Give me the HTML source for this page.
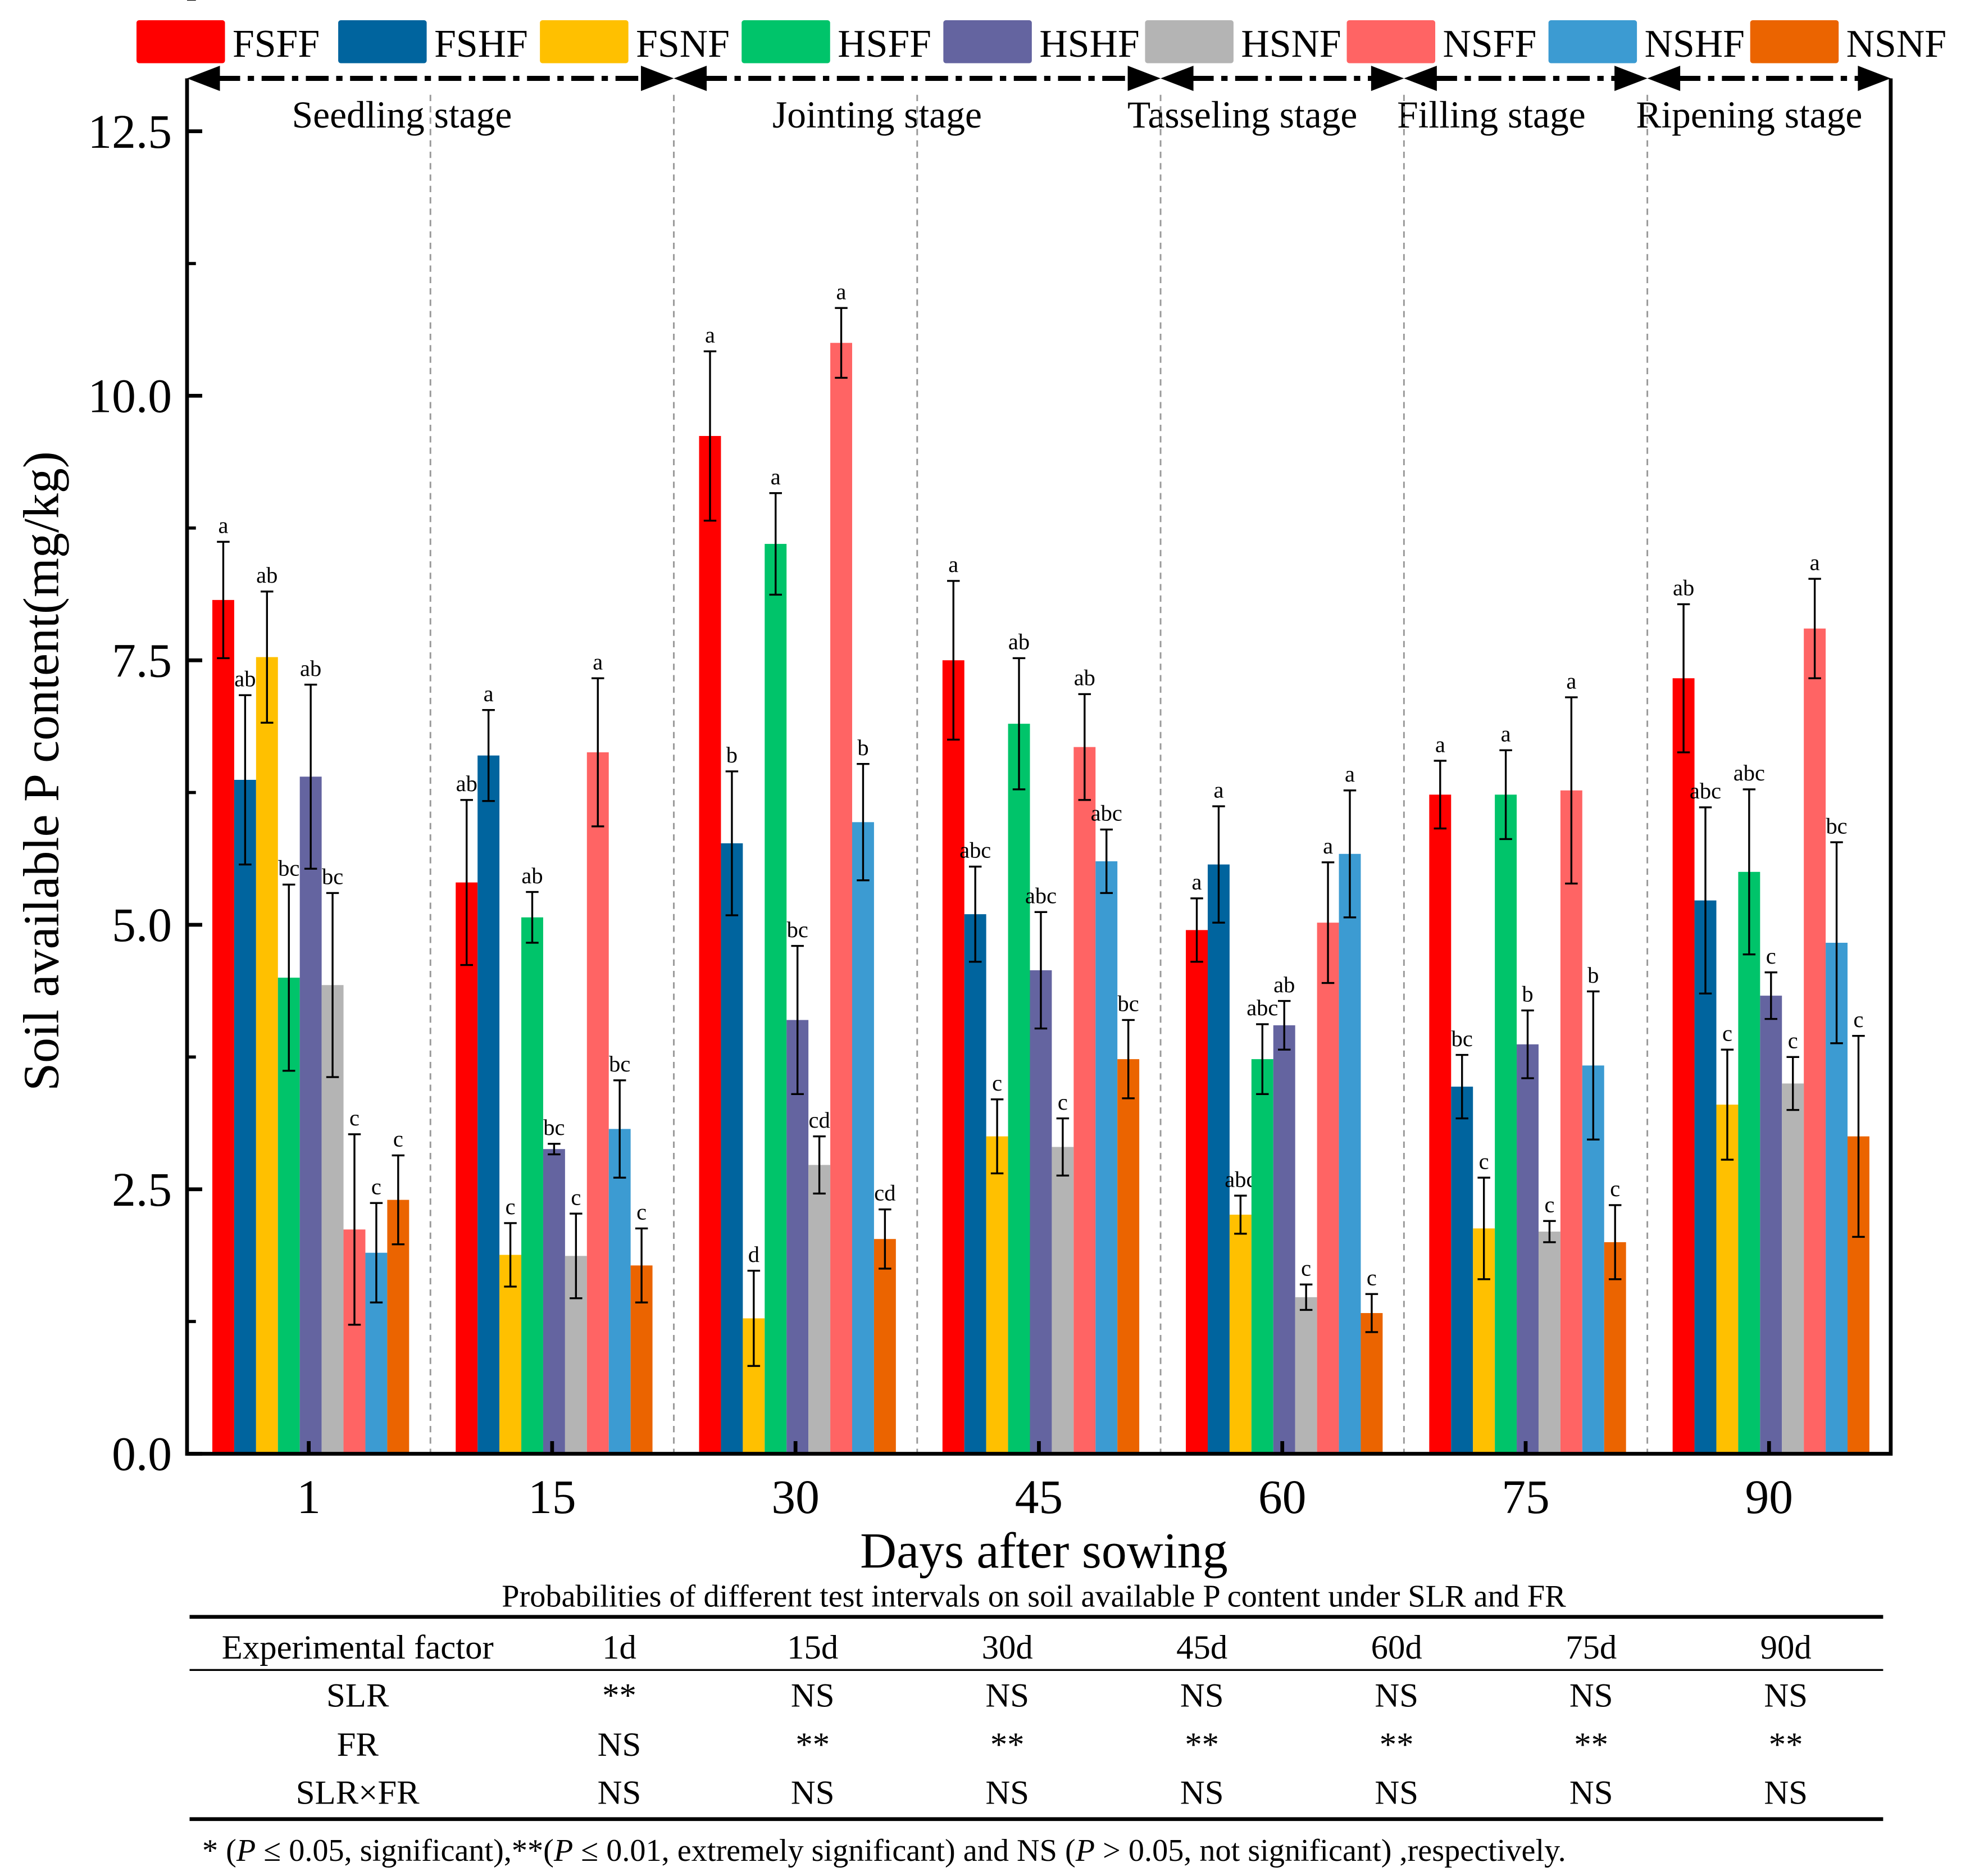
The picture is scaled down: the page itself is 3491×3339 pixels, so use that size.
<!DOCTYPE html>
<html><head><meta charset="utf-8"><style>
html,body{margin:0;padding:0;background:#fff}
svg{display:block}
text{font-family:"Liberation Serif","Times New Roman",serif;fill:#000}
</style></head><body>
<svg id="chart" xmlns="http://www.w3.org/2000/svg" width="3491" height="3339" viewBox="0 0 1551.6 1484" preserveAspectRatio="none">
<g id="legend"></g>
<g id="stages"></g>
<g id="grid"></g>
<g id="bars"></g>
<g id="axes"></g>
<g id="table"></g>
</svg>
<script>
const categories=["1","15","30","45","60","75","90"];
const seriesNames=["FSFF","FSHF","FSNF","HSFF","HSHF","HSNF","NSFF","NSHF","NSNF"];
const seriesColors=["#FF0000","#00649E","#FFC000","#00C46A","#6464A0","#B4B4B4","#FF6464","#3C9BD2","#EB6400"];
const values=[
[8.07,6.37,7.53,4.5,6.4,4.43,2.12,1.9,2.4],
[5.4,6.6,1.88,5.07,2.88,1.87,6.63,3.07,1.78],
[9.62,5.77,1.28,8.6,4.1,2.73,10.5,5.97,2.03],
[7.5,5.1,3.0,6.9,4.57,2.9,6.68,5.6,3.73],
[4.95,5.57,2.26,3.73,4.05,1.48,5.02,5.67,1.33],
[6.23,3.47,2.13,6.23,3.87,2.1,6.27,3.67,2.0],
[7.33,5.23,3.3,5.5,4.33,3.5,7.8,4.83,3.0]];
const errors=[
[0.55,0.8,0.62,0.88,0.87,0.87,0.9,0.47,0.42],
[0.78,0.43,0.3,0.24,0.05,0.4,0.7,0.46,0.35],
[0.8,0.68,0.45,0.48,0.7,0.27,0.33,0.55,0.28],
[0.75,0.45,0.35,0.62,0.55,0.27,0.5,0.3,0.37],
[0.3,0.55,0.18,0.33,0.23,0.12,0.57,0.6,0.18],
[0.32,0.3,0.48,0.42,0.32,0.1,0.88,0.7,0.35],
[0.7,0.88,0.52,0.78,0.22,0.25,0.47,0.95,0.95]];
const letters=[
["a","ab","ab","bc","ab","bc","c","c","c"],
["ab","a","c","ab","bc","c","a","bc","c"],
["a","b","d","a","bc","cd","a","b","cd"],
["a","abc","c","ab","abc","c","ab","abc","bc"],
["a","a","abc","abc","ab","c","a","a","c"],
["a","bc","c","a","b","c","a","b","c"],
["ab","abc","c","abc","c","c","a","bc","c"]];
const yTicks=[0,2.5,5,7.5,10,12.5];
const stages=[["Seedling stage",0,2],["Jointing stage",2,4],["Tasseling stage",4,5],["Filling stage",5,6],["Ripening stage",6,7]];
const stageLabelX=[318,694,983,1180,1384];
const tableCols=["1d","15d","30d","45d","60d","75d","90d"];
const tableRows=[["SLR",["**","NS","NS","NS","NS","NS","NS"]],["FR",["NS","**","**","**","**","**","**"]],["SLR×FR",["NS","NS","NS","NS","NS","NS","NS"]]];

const NS="http://www.w3.org/2000/svg";
const L=148,R=1496,T=62,B=1150,YMAX=13;
const band=(R-L)/categories.length, bw=17.3, off=20;
const y=v=>B-v/YMAX*(B-T);
const bx=(i,j)=>L+i*band+off+j*bw;
function mk(tag,attrs,parent,txt){const e=document.createElementNS(NS,tag);for(const k in attrs)e.setAttribute(k,attrs[k]);if(txt!==undefined)e.textContent=txt;parent.appendChild(e);return e;}
const gL=document.getElementById('legend'),gS=document.getElementById('stages'),gG=document.getElementById('grid'),gB=document.getElementById('bars'),gA=document.getElementById('axes'),gT=document.getElementById('table');

seriesNames.forEach((n,j)=>{
 const x=108+j*159.6;
 const r=mk('rect',{x:x,y:16,width:70,height:34,rx:2,fill:seriesColors[j]},gL);
 
 
 const t=mk('text',{x:x+76,y:45,'font-size':31},gL,n);
 
 
});

for(let i=1;i<categories.length;i++){
 const x=L+i*band;
 const l=mk('line',{x1:x,y1:75,x2:x,y2:B,stroke:'#999','stroke-width':1.3,'stroke-dasharray':'5,4'},gG);
 
 
}
stages.forEach((s,k)=>{
 const x1=L+s[1]*band,x2=L+s[2]*band;
 const ln=mk('line',{x1:x1+24,y1:T,x2:x2-24,y2:T,stroke:'#000','stroke-width':4,'stroke-dasharray':'18,6,5,6'},gS);
 
 
 const a1=mk('polygon',{points:`${x1},${T} ${x1+26},${T-10} ${x1+26},${T+10}`,fill:'#000'},gS);
 
 
 const a2=mk('polygon',{points:`${x2},${T} ${x2-26},${T-10} ${x2-26},${T+10}`,fill:'#000'},gS);
 
 
 const t=mk('text',{x:stageLabelX[k],y:101,'font-size':30,'text-anchor':'middle'},gS,s[0]);
 
 
});

categories.forEach((c,i)=>{
 seriesNames.forEach((n,j)=>{
  const v=values[i][j],e=errors[i][j],x=bx(i,j);
  const r=mk('rect',{x:x,y:y(v),width:bw,height:B-y(v),fill:seriesColors[j]},gB);
  
  
  const cx=x+bw/2,yt=y(v+e),yb=y(v-e);
  const p=mk('path',{d:`M${cx},${yt}V${yb}M${cx-5},${yt}H${cx+5}M${cx-5},${yb}H${cx+5}`,stroke:'#000','stroke-width':1.5,fill:'none'},gB);
  
  
  const t=mk('text',{x:cx,y:yt-7,'font-size':18,'text-anchor':'middle'},gB,letters[i][j]);
  
  
 });
 const xl=mk('text',{x:L+(i+0.5)*band,y:1197,'font-size':38,'text-anchor':'middle'},gA,c);
 
 
});

const fr=mk('path',{d:`M${L},${T}V${B}H${R}V${T}`,stroke:'#000','stroke-width':3,fill:'none'},gA);


yTicks.forEach(v=>{
 const tk=mk('line',{x1:L,y1:y(v),x2:L+12,y2:y(v),stroke:'#000','stroke-width':3},gA);
 
 
 const mn=mk('line',{x1:L,y1:y(v+1.25),x2:L+7,y2:y(v+1.25),stroke:'#000','stroke-width':2.5},gA);
 
 
 const t=mk('text',{x:L-12,y:y(v)+13,'font-size':38,'text-anchor':'end'},gA,v.toFixed(1));
 
 
});
categories.forEach((c,i)=>{
 const tk=mk('line',{x1:L+(i+0.5)*band,y1:B,x2:L+(i+0.5)*band,y2:B-10,stroke:'#000','stroke-width':3},gA);
 
 
});
const xt=mk('text',{x:826,y:1240,'font-size':40,'text-anchor':'middle'},gA,'Days after sowing');


const yt=mk('text',{x:0,y:0,'font-size':40,'text-anchor':'middle',transform:'translate(46,610) rotate(-90)'},gA,'Soil available P content(mg/kg)');



const cap=mk('text',{x:818,y:1271,'font-size':25,'text-anchor':'middle'},gT,'Probabilities of different test intervals on soil available P content under SLR and FR');


[[1279,3],[1321,1.5],[1439,3]].forEach(a=>{
 const l=mk('line',{x1:150,y1:a[0],x2:1490,y2:a[0],stroke:'#000','stroke-width':a[1]},gT);
 
 
});
const colX=[490,643,797,951,1105,1259,1413];
const h=mk('text',{x:283,y:1312,'font-size':27,'text-anchor':'middle'},gT,'Experimental  factor');


tableCols.forEach((c,k)=>{
 const t=mk('text',{x:colX[k],y:1312,'font-size':27,'text-anchor':'middle'},gT,c);
 
 
});
const rowY=[1350,1389,1427];
tableRows.forEach((r,ri)=>{
 const t=mk('text',{x:283,y:rowY[ri],'font-size':27,'text-anchor':'middle'},gT,r[0]);
 
 
 r[1].forEach((v,k)=>{
  const c=mk('text',{x:colX[k],y:rowY[ri],'font-size':27,'text-anchor':'middle'},gT,v);
  
  
 });
});
const fn=mk('text',{x:160,y:1472,'font-size':25},gT);


fn.innerHTML='* (<tspan font-style="italic">P</tspan> ≤ 0.05, significant),**(<tspan font-style="italic">P</tspan> ≤ 0.01, extremely significant) and NS (<tspan font-style="italic">P</tspan> &gt; 0.05, not significant) ,respectively.';
</script>
</body></html>
